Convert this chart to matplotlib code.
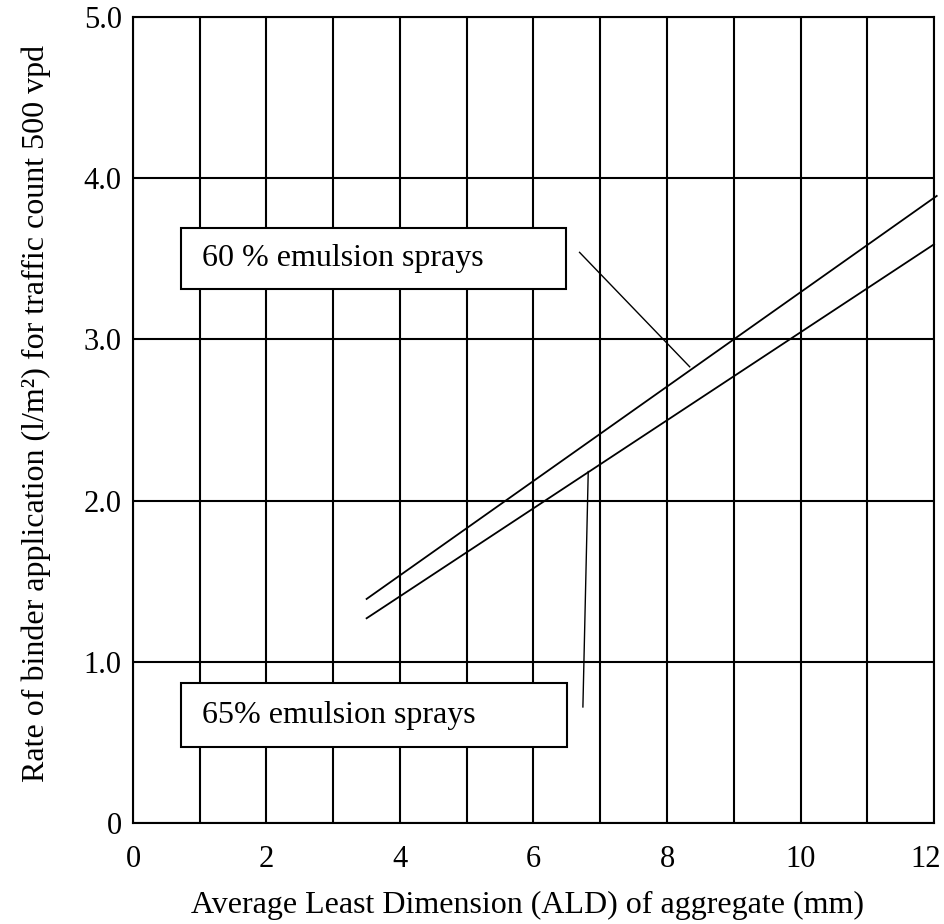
import matplotlib
matplotlib.use("Agg")
import matplotlib.pyplot as plt
from matplotlib.patches import Rectangle
from matplotlib.transforms import ScaledTranslation

plt.rcParams['font.family'] = ['Liberation Serif', 'DejaVu Serif']

# chart data
ald_60 = [3.5, 12.04]
rate_60 = [1.39, 3.89]
ald_65 = [3.5, 12.0]
rate_65 = [1.27, 3.59]

x_ticks = [0, 2, 4, 6, 8, 10, 12]
x_tick_labels = ['0', '2', '4', '6', '8', '10', '12']
y_ticks = [0, 1, 2, 3, 4, 5]
y_tick_labels = ['0', '1.0', '2.0', '3.0', '4.0', '5.0']

# label boxes: text, box x-range, box y-range, pointer start, pointer end
labels = [
    ('60 % emulsion sprays', (0.72, 6.49), (3.31, 3.69), (6.69, 3.54), (8.34, 2.83)),
    ('65% emulsion sprays', (0.72, 6.50), (0.47, 0.87), (6.74, 0.72), (6.82, 2.18)),
]

fig = plt.figure(figsize=(9.45, 9.24), dpi=100)
ax = fig.add_axes([0.1407, 0.1093, 0.9884 - 0.1407, 0.9816 - 0.1093])

ax.set_xlim(0, 12)
ax.set_ylim(0, 5)

# grid every 1 mm / 1.0 l/m2
ax.set_xticks(x_ticks)
ax.set_xticklabels(x_tick_labels)
ax.set_xticks(range(0, 13), minor=True)
ax.set_yticks(y_ticks)
ax.set_yticklabels(y_tick_labels)
ax.grid(True, which='both', color='black', linewidth=1.5)
ax.set_axisbelow(True)
ax.tick_params(which='both', length=0, labelsize=22)
ax.tick_params(axis='x', pad=16)
ax.tick_params(axis='y', pad=8)
for sp in ax.spines.values():
    sp.set_linewidth(1.5)

# last x label sits a little left so it stays inside the figure
last = ax.get_xticklabels()[-1]
last.set_transform(last.get_transform() + ScaledTranslation(-0.08, 0, fig.dpi_scale_trans))

ax.plot(ald_60, rate_60, color='black', linewidth=1.3, clip_on=False, zorder=3)
ax.plot(ald_65, rate_65, color='black', linewidth=1.3, clip_on=False, zorder=3)

for text, (x0, x1), (y0, y1), p0, p1 in labels:
    ax.add_patch(Rectangle((x0, y0), x1 - x0, y1 - y0, facecolor='white',
                           edgecolor='black', linewidth=1.5, zorder=4))
    ax.text(x0 + 0.31, (y0 + y1) / 2, text, fontsize=23, va='center',
            ha='left', zorder=5)
    ax.plot([p0[0], p1[0]], [p0[1], p1[1]], color='black', linewidth=1.0,
            zorder=3)

ax.set_xlabel('Average Least Dimension (ALD) of aggregate (mm)', fontsize=23,
              labelpad=12)
ax.set_ylabel('Rate of binder application (l/m²) for traffic count 500 vpd',
              fontsize=23, labelpad=24)
ax.xaxis.label.set_x(0.492)
ax.yaxis.label.set_y(0.508)

plt.savefig('out.png', dpi=100)
